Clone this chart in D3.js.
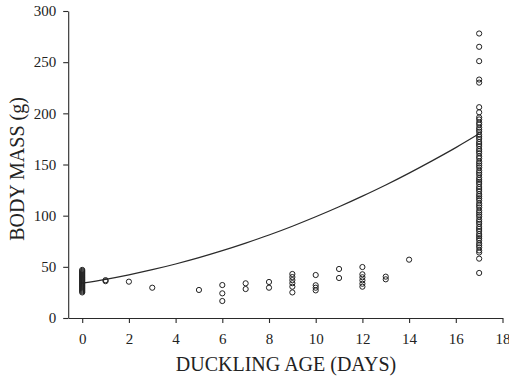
<!DOCTYPE html>
<html>
<head>
<meta charset="utf-8">
<script src="https://cdn.jsdelivr.net/npm/d3@7"></script>
<style>
  html, body { margin: 0; padding: 0; background: #fff; }
  svg { display: block; }
  svg text { font-family: "Liberation Serif", "Times New Roman", serif !important; fill: #222; }
</style>
</head>
<body>
<svg id="chart" width="509" height="382"></svg>
<script>
// ---- data ----
const xTicks = [0, 2, 4, 6, 8, 10, 12, 14, 16, 18];
const yTicks = [0, 50, 100, 150, 200, 250, 300];
const xTitle = "DUCKLING AGE (DAYS)";
const yTitle = "BODY MASS (g)";

// observed ducklings: age (days) and body mass (g)
const age0Mass = [47, 46, 45, 44, 43, 42, 41, 40, 39, 38, 37, 36, 35, 34, 33, 32, 31, 30, 29, 28, 27, 26, 25];
const age1Mass = [37, 36];
const age2Mass = [35.5];
const age3Mass = [29.6];
const age5Mass = [27.4];
const age6Mass = [32.2, 24.1, 16.6];
const age7Mass = [33.9, 28.3];
const age8Mass = [35.2, 29.6];
const age9Mass = [43, 40, 37, 34, 30.6, 25];
const age10Mass = [42, 32, 29.6, 27];
const age11Mass = [47.9, 39.1];
const age12Mass = [49.8, 42.7, 39.8, 36.8, 33.5, 30.6];
const age13Mass = [40.4, 37.8];
const age14Mass = [57];
const age17Mass = [278, 265, 251, 233, 230, 206, 201,
  196, 194, 191, 189, 186, 184, 182, 179, 177, 175, 172, 170, 168, 165, 163, 161,
  158, 156, 153, 151, 149, 147, 144, 142, 140, 137, 135, 133, 131, 128, 126, 124,
  121, 119, 117, 115, 112, 110, 108, 105, 103, 101, 99, 96, 94, 92, 89, 87, 85,
  82, 80, 78, 76, 73, 71, 69, 66, 64, 58, 44];

// fitted growth curve, read at whole days
const curveAge  = [0, 1, 2, 3, 4, 5, 6, 7, 8, 9, 10, 11, 12, 13, 14, 15, 16, 17];
const curveMass = [34, 37.8, 42.2, 47.2, 52.8, 59, 65.8, 73.2, 81.1, 89.7, 98.9, 108.7, 119.1, 130, 141.6, 153.8, 166.5, 180];

const groups = [
  [0, age0Mass], [1, age1Mass], [2, age2Mass], [3, age3Mass], [5, age5Mass],
  [6, age6Mass], [7, age7Mass], [8, age8Mass], [9, age9Mass], [10, age10Mass],
  [11, age11Mass], [12, age12Mass], [13, age13Mass], [14, age14Mass], [17, age17Mass]
];
const points = [];
groups.forEach(([a, ms]) => ms.forEach(m => points.push({age: a, mass: m})));

// ---- drawing ----
const svg = d3.select("#chart");
const x = d3.scaleLinear().domain([-0.6, 18]).range([68.2, 502.5]);
const y = d3.scaleLinear().domain([0, 300]).range([318, 11]);

const ink = "#2a2a2a";
const serif = "'Liberation Serif', 'Times New Roman', serif";

const xAxis = svg.append("g")
  .attr("transform", "translate(0,318)")
  .call(d3.axisBottom(x).tickValues(xTicks).tickSize(5).tickSizeOuter(0).tickPadding(6).tickFormat(d3.format("d")));
const yAxis = svg.append("g")
  .attr("transform", "translate(68.2,0)")
  .call(d3.axisLeft(y).tickValues(yTicks).tickSize(5).tickSizeOuter(0).tickPadding(7).tickFormat(d3.format("d")));

[xAxis, yAxis].forEach(g => {
  g.attr("font-family", serif).attr("font-size", 15);
  g.selectAll("path, line").attr("stroke", ink).attr("stroke-width", 1.1);
  g.selectAll("text").style("font-family", serif).style("font-size", "15px").attr("fill", "#222");
});
xAxis.selectAll("text").attr("dy", "1em");

// curve
const line = d3.line().x((d, i) => x(curveAge[i])).y(d => y(d)).curve(d3.curveMonotoneX);
svg.append("path")
  .datum(curveMass)
  .attr("d", line)
  .attr("fill", "none")
  .attr("stroke", ink)
  .attr("stroke-width", 1.2);

// points
svg.append("g").selectAll("circle")
  .data(points)
  .join("circle")
  .attr("cx", d => x(d.age))
  .attr("cy", d => y(d.mass))
  .attr("r", 2.6)
  .attr("fill", "none")
  .attr("stroke", "#222")
  .attr("stroke-width", 1);

// titles
svg.append("text")
  .attr("x", 286).attr("y", 371)
  .attr("text-anchor", "middle")
  .style("font-size", "20px")
  .text(xTitle);
svg.append("text")
  .attr("transform", "translate(24,169) rotate(-90)")
  .attr("text-anchor", "middle")
  .style("font-size", "20px")
  .text(yTitle);
</script>
</body>
</html>
